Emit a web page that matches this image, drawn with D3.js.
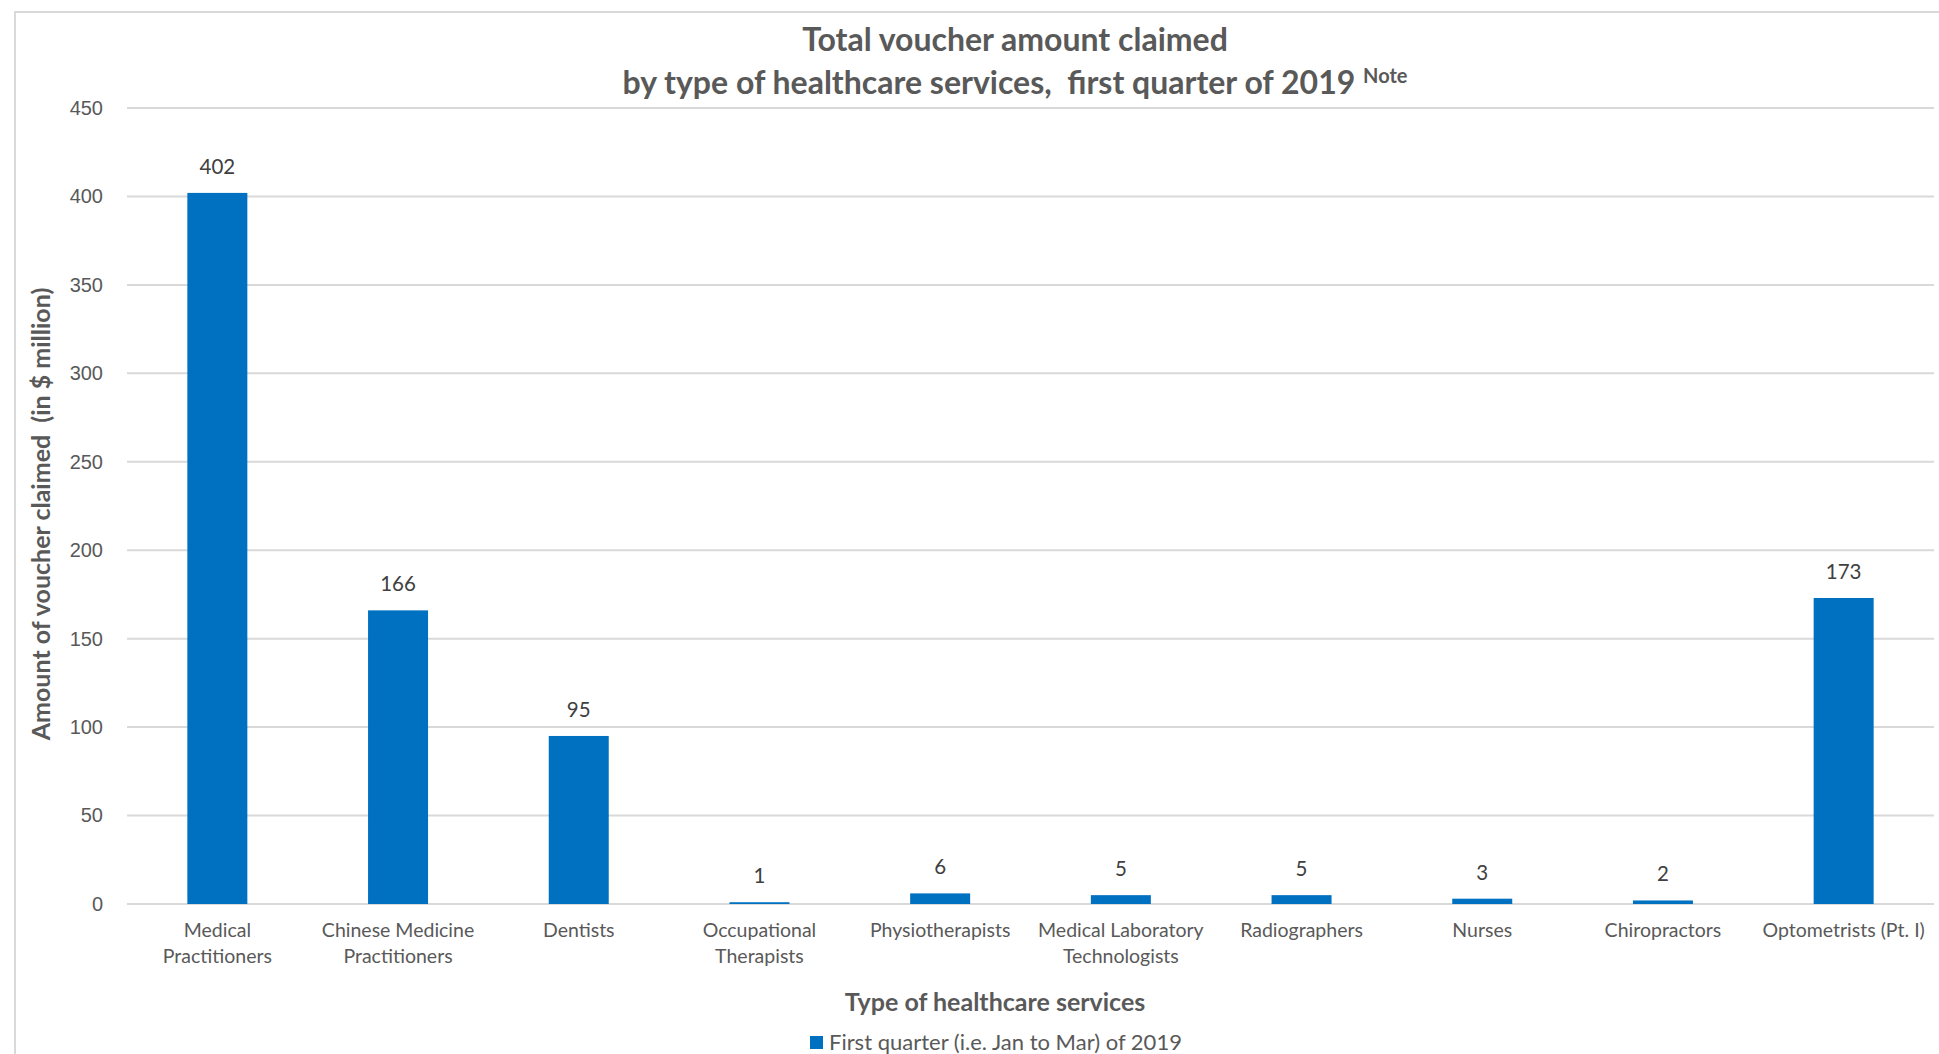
<!DOCTYPE html>
<html>
<head>
<meta charset="utf-8">
<script src="https://cdn.jsdelivr.net/npm/d3@7"></script>
<style>
  body { margin: 0; background: #fff; }
  svg { display: block; font-family: Lato, "Open Sans", sans-serif; }
</style>
</head>
<body>
<div id="chart"></div>
<script>
// data
var categories = [
  ["Medical", "Practitioners"],
  ["Chinese Medicine", "Practitioners"],
  ["Dentists"],
  ["Occupational", "Therapists"],
  ["Physiotherapists"],
  ["Medical Laboratory", "Technologists"],
  ["Radiographers"],
  ["Nurses"],
  ["Chiropractors"],
  ["Optometrists (Pt. I)"]
];
var values = [402, 166, 95, 1, 6, 5, 5, 3, 2, 173];
var yTicks = [0, 50, 100, 150, 200, 250, 300, 350, 400, 450];
var seriesName = "First quarter (i.e. Jan to Mar) of 2019";

var W = 1939, H = 1054;
var margin = { top: 108, right: 5, bottom: 150, left: 127 };
var width = W - margin.left - margin.right;
var height = H - margin.top - margin.bottom;

var svg = d3.select("#chart").append("svg")
  .attr("width", W)
  .attr("height", H);

// chart frame
svg.append("rect")
  .attr("x", 15).attr("y", 12)
  .attr("width", W).attr("height", H)
  .attr("fill", "none")
  .attr("stroke", "#d9d9d9")
  .attr("stroke-width", 2);

var g = svg.append("g").attr("transform", "translate(" + margin.left + "," + margin.top + ")");

var x = d3.scaleBand()
  .domain(d3.range(categories.length))
  .range([0, width])
  .padding(0);

var y = d3.scaleLinear()
  .domain([0, 450])
  .range([height, 0]);

// gridlines
g.append("g")
  .selectAll("line")
  .data(yTicks)
  .enter().append("line")
  .attr("x1", 0).attr("x2", width)
  .attr("y1", function (d) { return y(d); })
  .attr("y2", function (d) { return y(d); })
  .attr("stroke", "#d9d9d9")
  .attr("stroke-width", 2);

// y axis labels
var yAxis = g.append("g")
  .call(d3.axisLeft(y).tickValues(yTicks).tickSize(0).tickPadding(24));
yAxis.select(".domain").remove();
yAxis.selectAll("text")
  .attr("fill", "#595959")
  .style("font-size", "20px");

// bars
var barW = x.bandwidth() * 0.332;
g.selectAll(".bar")
  .data(values)
  .enter().append("rect")
  .attr("class", "bar")
  .attr("x", function (d, i) { return x(i) + x.bandwidth() / 2 - barW / 2; })
  .attr("y", function (d) { return y(d); })
  .attr("width", barW)
  .attr("height", function (d) { return height - y(d); })
  .attr("fill", "#0070c0");

// data labels
g.selectAll(".lbl")
  .data(values)
  .enter().append("text")
  .attr("class", "lbl")
  .attr("x", function (d, i) { return x(i) + x.bandwidth() / 2; })
  .attr("y", function (d) { return y(d) - 19; })
  .attr("text-anchor", "middle")
  .attr("fill", "#404040")
  .style("font-size", "20.5px")
  .text(function (d) { return d; });

// category labels
var cat = g.selectAll(".cat")
  .data(categories)
  .enter().append("text")
  .attr("class", "cat")
  .attr("text-anchor", "middle")
  .attr("fill", "#595959")
  .style("font-size", "19.5px")
  .attr("transform", function (d, i) {
    return "translate(" + (x(i) + x.bandwidth() / 2) + "," + (height + 33) + ")";
  });
cat.selectAll("tspan")
  .data(function (d) { return d; })
  .enter().append("tspan")
  .attr("x", 0)
  .attr("dy", function (d, i) { return i === 0 ? 0 : 26; })
  .text(function (d) { return d; });

// titles
var title = svg.append("text")
  .attr("x", 1015)
  .attr("text-anchor", "middle")
  .attr("fill", "#595959")
  .style("font-weight", "bold")
  .style("font-size", "32px");
title.append("tspan").attr("x", 1015).attr("y", 51).text("Total voucher amount claimed");
var t2 = title.append("tspan").attr("x", 1015).attr("y", 94);
t2.append("tspan").text("by type of healthcare services,\u00a0 first quarter of 2019 ");
t2.append("tspan").attr("dy", -11).style("font-size", "20px").text("Note");

svg.append("text")
  .attr("transform", "translate(50," + (margin.top + height / 2 + 8) + ") rotate(-90)")
  .attr("text-anchor", "middle")
  .attr("fill", "#595959")
  .style("font-weight", "bold")
  .style("font-size", "25px")
  .text("Amount of voucher claimed \u00a0(in $ million)");

svg.append("text")
  .attr("x", 995)
  .attr("y", 1011)
  .attr("text-anchor", "middle")
  .attr("fill", "#595959")
  .style("font-weight", "bold")
  .style("font-size", "25px")
  .text("Type of healthcare services");

// legend
var leg = svg.append("g").attr("transform", "translate(810,1036)");
leg.append("rect")
  .attr("width", 13).attr("height", 13)
  .attr("fill", "#0070c0");
leg.append("text")
  .attr("x", 19).attr("y", 14)
  .attr("fill", "#595959")
  .style("font-size", "22px")
  .text(seriesName);
</script>
</body>
</html>
